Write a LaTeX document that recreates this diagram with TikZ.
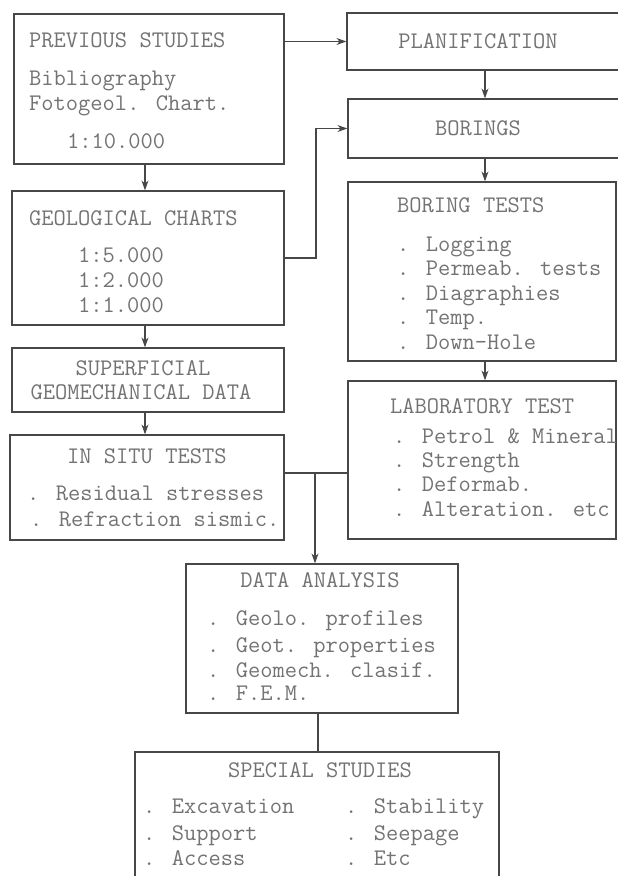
\documentclass[tikz,border=0pt]{standalone}
\usetikzlibrary{arrows.meta}
\begin{document}
\begin{tikzpicture}[x=1pt,y=-1pt,
  box/.style={draw=black!72,line width=1.2pt,rectangle,inner sep=0pt},
  txt/.style={inner sep=0pt,anchor=base west,text=black!55,font=\ttfamily\fontsize{23.8}{28}\selectfont},
  ctxt/.style={txt,anchor=base},
  arr/.style={draw=black!72,line width=1.2pt,-{Stealth[length=10pt,width=7pt]}},
  ln/.style={draw=black!72,line width=1.2pt}]
\useasboundingbox (0,0) rectangle (618,876);
\clip (0,0) rectangle (618,876);
\fill[white] (0,0) rectangle (618,876);
% boxes
\node[box,minimum width=270pt,minimum height=150pt] (prev) at (149,89) {};
\node[box,minimum width=293pt,minimum height=57pt] (plan) at (493.5,41.5) {};
\node[box,minimum width=292pt,minimum height=59pt] (bor) at (494,128.5) {};
\node[box,minimum width=268pt,minimum height=179pt] (bt) at (482,271.5) {};
\node[box,minimum width=272pt,minimum height=134pt] (geol) at (148,258) {};
\node[box,minimum width=272pt,minimum height=64pt] (sup) at (148,380) {};
\node[box,minimum width=274pt,minimum height=105pt] (insitu) at (147,487.5) {};
\node[box,minimum width=268pt,minimum height=158pt] (lab) at (482,460) {};
\node[box,minimum width=272pt,minimum height=149pt] (data) at (322,638.5) {};
\node[box,minimum width=364pt,minimum height=148pt] (spec) at (317,826) {};
% texts
\node[txt] (t1) at (29,47) {PREVIOUS STUDIES};
\node[txt] (t2) at (29,85) {Bibliography};
\node[txt] (t3) at (29,110) {Fotogeol. Chart.};
\node[txt] (t4) at (67,148) {1:10.000};
\node[ctxt] (t5) at (478,48) {PLANIFICATION};
\node[ctxt] (t6) at (478,135) {BORINGS};
\node[txt] (t7) at (29,225) {GEOLOGICAL CHARTS};
\node[txt] (t8) at (78,262) {1:5.000};
\node[txt] (t9) at (78,287) {1:2.000};
\node[txt] (t10) at (78,312) {1:1.000};
\node[txt] (t11) at (397,212) {BORING TESTS};
\node[txt] (t12) at (397,251) {. Logging};
\node[txt] (t13) at (397,275.5) {. Permeab. tests};
\node[txt] (t14) at (397,300) {. Diagraphies};
\node[txt] (t15) at (397,324.5) {. Temp.};
\node[txt] (t16) at (397,349) {. Down-Hole};
\node[ctxt] (t17) at (143,375) {SUPERFICIAL};
\node[ctxt] (t18) at (141,399) {GEOMECHANICAL DATA};
\node[txt] (t19) at (67,463) {IN SITU TESTS};
\node[txt] (t20) at (27,500) {. Residual stresses};
\node[txt] (t21) at (30,526) {. Refraction sismic.};
\node[txt] (t22) at (390,413) {LABORATORY TEST};
\node[txt] (t23) at (393,443) {. Petrol \& Mineral};
\node[txt] (t24) at (393,467) {. Strength};
\node[txt] (t25) at (393,491) {. Deformab.};
\node[txt] (t26) at (393,516) {. Alteration. etc};
\node[ctxt] (t27) at (320,587) {DATA ANALYSIS};
\node[txt] (t28) at (207,625) {. Geolo. profiles};
\node[txt] (t29) at (207,652) {. Geot. properties};
\node[txt] (t30) at (207,677) {. Geomech. clasif.};
\node[txt] (t31) at (207,700) {. F.E.M.};
\node[ctxt] (t32) at (320,777) {SPECIAL STUDIES};
\node[txt] (t33) at (143,813) {. Excavation};
\node[txt] (t34) at (143,840) {. Support};
\node[txt] (t35) at (143,865) {. Access};
\node[txt] (t36) at (345,813) {. Stability};
\node[txt] (t37) at (345,840) {. Seepage};
\node[txt] (t38) at (345,865) {. Etc};
% helper coordinates
\coordinate (mx) at (485,0);
\coordinate (lx) at (145,0);
\coordinate (jx) at (316,0);
\coordinate (hy) at (315,473);
\coordinate (sx) at (318,0);
% connectors
\draw[arr] (prev.east |- plan.west) -- (plan.west);
\draw[arr] (plan.south -| mx) -- (bor.north -| mx);
\draw[arr] (bor.south -| mx) -- (bt.north -| mx);
\draw[arr] (bt.south -| mx) -- (lab.north -| mx);
\draw[arr] (prev.south -| lx) -- (geol.north -| lx);
\draw[arr] (geol.south -| lx) -- (sup.north -| lx);
\draw[arr] (sup.south -| lx) -- (insitu.north -| lx);
\draw[arr] (geol.east) -| (jx |- bor.west) -- (bor.west);
\draw[ln] (insitu.east |- hy) -- (lab.west |- hy);
\draw[arr] (hy) -- (hy |- data.north);
\draw[ln] (data.south -| sx) -- (spec.north -| sx);
\end{tikzpicture}
\end{document}
